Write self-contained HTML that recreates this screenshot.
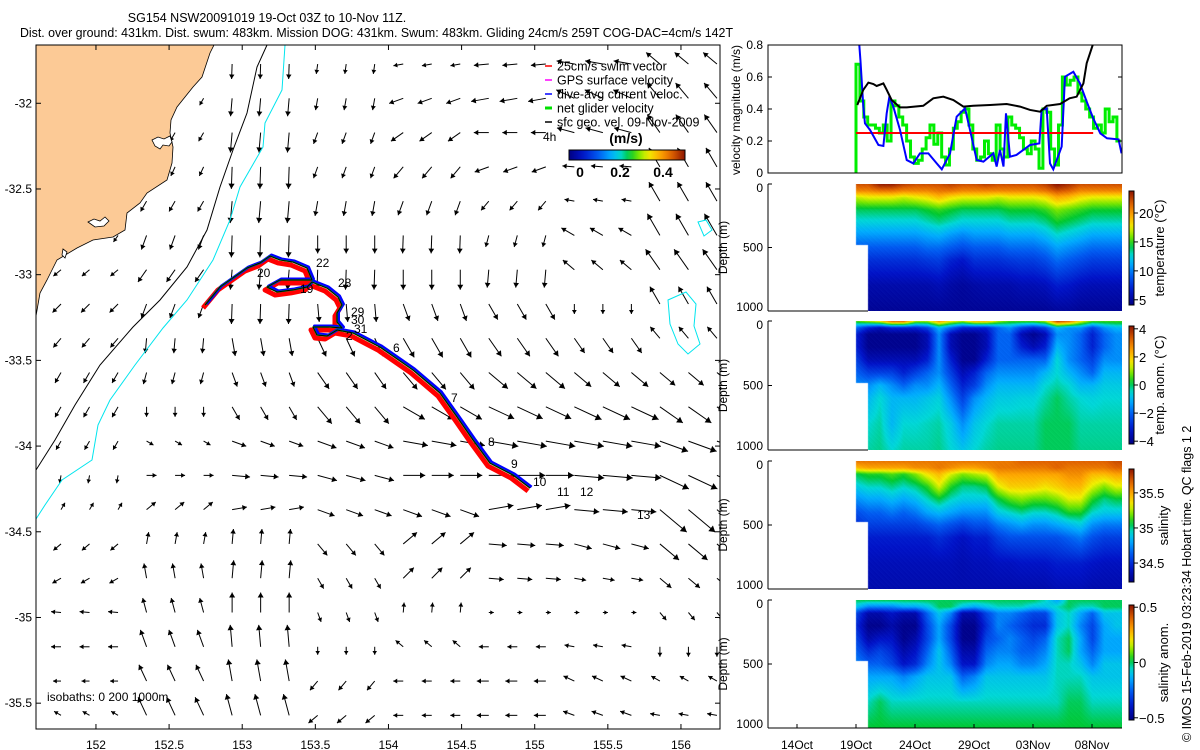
<!DOCTYPE html>
<html><head><meta charset="utf-8">
<style>
body{margin:0;background:#fff;}
#root{position:relative;width:1200px;height:750px;overflow:hidden;background:#fff;font-family:"Liberation Sans",sans-serif;}
svg{position:absolute;left:0;top:0;}
canvas{position:absolute;}
text{font-family:"Liberation Sans",sans-serif;fill:#000;}
</style></head>
<body>
<div id="root">
<canvas id="c-temp" style="left:768px;top:184px" width="354" height="127"></canvas>
<canvas id="c-tanom" style="left:768px;top:321px" width="354" height="129"></canvas>
<canvas id="c-sal" style="left:768px;top:461px" width="354" height="128"></canvas>
<canvas id="c-sanom" style="left:768px;top:600px" width="354" height="128"></canvas>
<svg id="s" width="1200" height="750"></svg>
</div>
<script>
// ---------- DATA ----------
const arrowAngle = [
[240,240,268,262,190,185,170,140],[240,240,265,260,200,190,155,130],[240,240,265,250,215,180,165,125],
[245,245,268,250,230,200,175,120],[240,240,265,260,250,230,170,120],[235,250,268,270,268,255,150,120],
[220,235,265,268,270,265,140,125],[225,250,268,275,290,300,270,120],[230,265,280,295,300,305,305,130],
[240,255,290,305,310,320,320,320],[240,270,300,310,330,335,335,325],[240,330,340,340,350,350,350,340],
[260,0,355,345,0,0,355,335],[60,40,10,340,340,10,355,320],[220,80,85,310,40,355,345,320],
[210,100,85,300,45,355,350,320],[175,105,90,290,85,0,0,310],[180,110,95,270,140,180,170,270],
[180,115,100,230,180,180,155,150],[150,115,105,220,180,180,160,170]];
const arrowLen = [
[8,8,15,10,10,15,18,18],[8,8,18,12,15,18,20,20],[10,10,20,12,15,15,18,22],[10,10,22,12,15,15,12,22],
[12,12,22,15,15,12,10,22],[8,15,22,18,18,12,15,25],[10,15,20,20,20,18,15,25],[12,15,20,18,18,18,10,20],
[12,15,18,20,22,22,18,15],[12,12,15,20,22,25,22,20],[12,10,15,22,25,28,30,28],[10,8,15,20,25,30,30,30],
[8,10,18,20,22,28,30,32],[8,12,15,18,20,25,25,35],[10,12,15,15,18,18,18,25],[10,15,18,12,15,15,12,15],
[10,15,20,10,10,5,5,10],[10,18,22,8,10,10,10,10],[8,18,22,12,10,12,12,10],[8,20,22,12,10,12,12,10]];
const trackLon = [152.746,152.848,153.033,153.122,153.19,153.258,153.347,153.443,153.477,153.443,153.258,153.17,153.238,153.347,153.443,153.477,153.58,153.655,153.682,153.648,153.648,153.682,153.6,153.484,153.511,153.58,153.648,153.758,153.942,154.168,154.352,154.469,154.578,154.694,154.852,154.968];
const trackLat = [-33.177,-33.072,-32.961,-32.932,-32.891,-32.914,-32.926,-32.961,-33.031,-33.031,-33.031,-33.072,-33.101,-33.089,-33.072,-33.043,-33.078,-33.13,-33.177,-33.224,-33.276,-33.311,-33.305,-33.305,-33.352,-33.358,-33.323,-33.34,-33.422,-33.556,-33.69,-33.83,-33.964,-34.099,-34.169,-34.245];
const lonTicks = [152,152.5,153,153.5,154,154.5,155,155.5,156];
const latTicks = [-32,-32.5,-33,-33.5,-34,-34.5,-35,-35.5];
const geoDay = [0.11,0.62,1.05,1.47,1.75,2.32,2.6,3.02,3.73,4.3,5.7,6.55,7.4,8.25,9.1,9.94,11.36,12.77,13.9,14.75,15.6,16.16,17.3,18.1,18.7,19.27,19.55,20.06];
const geoVel = [0.425,0.52,0.565,0.556,0.544,0.56,0.52,0.456,0.41,0.41,0.42,0.467,0.477,0.456,0.415,0.42,0.425,0.431,0.415,0.394,0.383,0.42,0.431,0.467,0.477,0.56,0.686,0.8];
const dacDay = [0.27,0.38,0.62,0.76,1.19,1.9,2.32,2.6,2.83,3.16,3.73,4.3,4.86,5.42,6.13,6.84,7.27,7.97,8.53,9.24,9.66,10.23,10.8,11.64,11.92,12.2,12.5,12.71,13.05,13.6,14.75,15.54,15.73,16.16,16.44,16.72,17.43,17.71,18.42,18.98,19.55,20.1,20.7,21.27,22.25,22.5];
const dacVel = [0.81,0.7,0.415,0.31,0.269,0.175,0.169,0.373,0.477,0.415,0.269,0.081,0.06,0.123,0.123,0.06,0.023,0.123,0.352,0.404,0.269,0.081,0.071,0.123,0.04,0.144,0.04,0.373,0.102,0.113,0.175,0.185,0.394,0.404,0.06,0.023,0.165,0.602,0.633,0.56,0.446,0.342,0.248,0.217,0.21,0.123];
const netVel = [0.68,0.45,0.35,0.3,0.3,0.28,0.25,0.3,0.2,0.45,0.42,0.35,0.3,0.2,0.1,0.06,0.08,0.15,0.22,0.3,0.18,0.25,0.1,0.05,0.15,0.28,0.32,0.38,0.4,0.3,0.15,0.08,0.1,0.2,0.12,0.08,0.3,0.15,0.1,0.35,0.3,0.28,0.22,0.15,0.12,0.2,0.15,0.03,0.4,0.38,0.15,0.05,0.3,0.6,0.55,0.58,0.6,0.5,0.45,0.4,0.35,0.28,0.3,0.25,0.4,0.32,0.35,0.2];
const netStep = 0.33;
const swimVel = 0.25, swimEnd = 20.1;
const velTicks = [0,0.2,0.4,0.6,0.8];
const dateLabels = ["14Oct","19Oct","24Oct","29Oct","03Nov","08Nov"];
const dateDays = [-5,0,5,10,15,20];
const depthLev = [0,50,100,200,300,400,500,600,800,1000];
const tempGrid = [
[22,22,23.5,23.5,22.5,22,22,22,22.5,22,22,22.5,22,22,22,22,22.5,23.8,23,22,22,22,22],
[20.5,20.5,21,21,20.5,20.5,20.5,21,21,20.5,20.5,20.5,20.5,20.5,20.5,20.5,21,22,21.5,20.5,20.5,20.5,20.5],
[17,17.5,17.5,17.5,17,17.5,18,19,18,17.5,17.5,17.5,17,17.5,17.5,17.5,18,19.5,19,18,17.5,17.5,17.5],
[14,14,14,14,14,14,14.5,15,14.5,14,14,14,14,14.5,14.5,14.5,15,16,15.5,15,14.5,14.5,14.5],
[12.5,12.5,12.5,12.5,12.5,12.5,13,13.5,13,12.5,12.5,12.5,12.5,13,13,13,13.5,14.5,14,13.5,13,13,13],
[10.8,10.8,10.8,10.8,10.8,10.8,11.2,11.5,10.8,10.3,10.8,10.8,10.8,11.2,11.2,11.2,11.8,12.8,12.3,11.8,11.2,11.2,11.2],
[9,9,9,9,9,9,9.5,9.5,9,8.5,9,9,9,9.5,9.5,9.5,10,11,10.5,10,9.5,9.5,9.5],
[7.5,7.5,7.5,7.5,7.5,7.5,7.8,8,7,6.5,7.5,7.5,7.5,7.8,8,8,8.5,9.5,9,8.5,8,8,8],
[5.5,5.5,5.5,5.5,5.5,5.5,5.5,5.8,5.3,5,5.3,5.5,5.5,5.5,5.8,5.8,6,6.8,6.5,6,5.8,5.8,5.8],
[4.8,4.8,4.8,4.8,4.8,4.8,4.8,4.8,4.8,4.8,4.8,4.8,4.8,4.8,4.8,4.8,4.8,5,5,4.8,4.8,4.8,4.8]];
const tanomGrid = [
[0.5,1,1.5,3,3,1,1,2.5,1.5,1,2,2,1,0.5,0.5,0.5,1,3.5,3,1.5,0.5,0.5,0.5],
[-2,-3,-3.5,-3,-3,-3,-2.5,-1,-2,-3,-3,-3,-2,-1.5,-2.5,-3,-2.5,-1,-1.5,-1.5,-2.5,-1.5,-1],
[-3,-4,-4,-4,-4,-4,-3.5,-1.5,-3.5,-4,-4,-3.5,-2,-2,-3.5,-4,-3.5,-1.5,-1.5,-2,-3,-2,-1.5],
[-3,-4,-4,-4,-4,-4,-3.5,-1.5,-3.5,-4,-4,-3.5,-2,-2,-3,-3.5,-3,-1,-1.5,-2,-3,-2,-1.5],
[-2.5,-3.5,-3.5,-3.5,-3.5,-3.5,-3,-1.5,-3,-4,-4,-3,-2,-2,-2,-2,-2,-0.5,-1.5,-2,-2.5,-1.5,-1.5],
[-2,-2.5,-2.5,-2.5,-3,-2.5,-2,-1.5,-2.5,-3.5,-3,-2,-1.5,-1.5,-1.5,-1.5,-1,-0.5,-1,-1.5,-2,-1,-1],
[-1.5,-1.5,-1,-1.5,-2,-1.5,-1.5,-1,-2,-3,-2.5,-1.5,-1,-1,-1,-1,-0.5,-0.3,-0.5,-1,-1,-0.7,-0.7],
[-1,-1,-0.5,-1,-1,-1,-0.8,-0.6,-1.5,-2.5,-1.5,-1,-0.7,-0.7,-0.6,-0.6,-0.3,0,-0.3,-0.5,-0.6,-0.5,-0.5],
[-0.5,-0.5,-0.3,-1,-0.5,-0.5,-0.4,-0.3,-0.7,-1.5,-0.8,-0.5,-0.3,-0.3,-0.3,-0.3,0,0,0,-0.3,-0.3,-0.3,-0.3],
[-0.3,-0.3,-0.2,-0.5,-0.3,-0.3,-0.3,-0.2,-0.5,-0.8,-0.5,-0.3,-0.2,-0.2,-0.2,-0.2,0,0,0,-0.2,-0.2,-0.2,-0.2]];
const salGrid = [
[35.6,35.6,35.6,35.6,35.6,35.6,35.6,35.6,35.6,35.6,35.6,35.6,35.6,35.6,35.65,35.65,35.65,35.65,35.65,35.65,35.65,35.65,35.7],
[35.45,35.5,35.5,35.5,35.5,35.55,35.55,35.6,35.55,35.5,35.5,35.55,35.6,35.6,35.6,35.6,35.6,35.65,35.6,35.6,35.6,35.6,35.65],
[35.05,35.1,35.1,35.15,35.1,35.2,35.35,35.45,35.3,35.2,35.25,35.3,35.5,35.5,35.5,35.5,35.5,35.5,35.55,35.55,35.45,35.45,35.5],
[34.9,34.95,34.95,35.0,34.95,35.0,35.1,35.3,35.1,35.0,35.0,35.05,35.3,35.4,35.4,35.4,35.35,35.4,35.45,35.45,35.3,35.2,35.3],
[34.75,34.8,34.8,34.85,34.8,34.85,34.95,35.05,34.95,34.9,34.9,34.9,35.05,35.15,35.2,35.15,35.15,35.2,35.3,35.3,35.1,35.0,35.05],
[34.6,34.65,34.65,34.7,34.65,34.7,34.8,34.85,34.8,34.75,34.75,34.75,34.9,34.95,35.0,34.95,34.95,35.0,35.1,35.1,34.95,34.9,34.9],
[34.5,34.55,34.55,34.55,34.55,34.55,34.6,34.65,34.6,34.55,34.6,34.6,34.7,34.75,34.8,34.75,34.75,34.8,34.85,34.9,34.75,34.7,34.7],
[34.45,34.45,34.45,34.45,34.45,34.45,34.45,34.5,34.45,34.4,34.45,34.45,34.55,34.6,34.6,34.6,34.6,34.6,34.65,34.7,34.6,34.55,34.55],
[34.38,34.38,34.38,34.38,34.38,34.38,34.38,34.38,34.38,34.36,34.38,34.38,34.4,34.4,34.42,34.42,34.42,34.45,34.45,34.45,34.42,34.4,34.4],
[34.35,34.35,34.35,34.35,34.35,34.35,34.35,34.35,34.35,34.35,34.35,34.35,34.35,34.35,34.35,34.35,34.35,34.37,34.37,34.37,34.35,34.35,34.35]];
const sanomGrid = [
[0,0,0,0,0,0,0,0,0,0,0,0,0,0,0,0,-0.05,-0.15,0,0,0,0,0],
[-0.1,-0.2,-0.2,-0.2,-0.15,-0.15,-0.1,0,0,-0.1,-0.15,-0.1,-0.05,-0.05,-0.05,-0.1,-0.1,-0.05,0,-0.05,-0.05,0,0],
[-0.3,-0.45,-0.45,-0.4,-0.45,-0.45,-0.25,-0.1,-0.2,-0.45,-0.45,-0.3,-0.2,-0.2,-0.25,-0.3,-0.3,-0.1,-0.05,-0.15,-0.25,-0.1,-0.1],
[-0.35,-0.5,-0.5,-0.45,-0.5,-0.5,-0.3,-0.15,-0.3,-0.5,-0.5,-0.35,-0.2,-0.25,-0.3,-0.35,-0.35,-0.1,-0.05,-0.2,-0.3,-0.15,-0.1],
[-0.3,-0.45,-0.4,-0.4,-0.5,-0.45,-0.3,-0.15,-0.3,-0.5,-0.5,-0.3,-0.25,-0.2,-0.25,-0.3,-0.25,-0.05,0,-0.15,-0.3,-0.15,-0.15],
[-0.25,-0.35,-0.3,-0.35,-0.45,-0.4,-0.25,-0.1,-0.25,-0.45,-0.45,-0.25,-0.2,-0.2,-0.25,-0.25,-0.2,-0.05,0,-0.15,-0.25,-0.15,-0.15],
[-0.2,-0.25,-0.25,-0.3,-0.4,-0.35,-0.2,-0.1,-0.2,-0.4,-0.4,-0.2,-0.15,-0.15,-0.2,-0.2,-0.15,-0.05,-0.05,-0.1,-0.2,-0.1,-0.1],
[-0.1,-0.15,-0.15,-0.15,-0.2,-0.15,-0.1,-0.1,-0.1,-0.25,-0.2,-0.1,-0.1,-0.1,-0.1,-0.1,-0.1,-0.05,-0.05,-0.05,-0.1,-0.1,-0.1],
[0,-0.05,0,-0.05,-0.05,-0.05,-0.05,-0.05,-0.05,-0.05,-0.05,-0.05,-0.05,-0.05,-0.05,-0.05,-0.05,-0.05,0,0,-0.05,-0.05,-0.05],
[0.02,0.02,0.02,0.02,0.02,0.02,0.02,0.02,0.02,0.02,0.02,0.02,0.02,0.02,0.02,0.02,0.02,0.02,0.02,0.02,0.02,0.02,0.02]];
const tempTicks=[5,10,15,20], tanomTicks=[-4,-2,0,2,4], salTicks=[34.5,35,35.5], sanomTicks=[-0.5,0,0.5];

// ---------- helpers ----------
const NS='http://www.w3.org/2000/svg';
const S=document.getElementById('s');
function el(tag,attrs,parent){const e=document.createElementNS(NS,tag);for(const k in attrs)e.setAttribute(k,attrs[k]);(parent||S).appendChild(e);return e;}
function txt(x,y,s,attrs,parent){const e=el('text',Object.assign({x:x,y:y},attrs||{}),parent);e.textContent=s;return e;}
const stops=[[0,0,0,130],[0.12,0,20,200],[0.25,0,90,240],[0.36,0,170,255],[0.44,0,215,215],[0.52,0,200,50],[0.6,120,230,0],[0.68,240,240,0],[0.78,255,170,0],[0.88,225,100,0],[1,140,20,0]];
function cmap(t){t=Math.max(0,Math.min(1,t));for(let i=1;i<stops.length;i++){if(t<=stops[i][0]){const a=stops[i-1],b=stops[i],f=(t-a[0])/(b[0]-a[0]);return [a[1]+f*(b[1]-a[1]),a[2]+f*(b[2]-a[2]),a[3]+f*(b[3]-a[3])];}}return [140,20,0];}

const MX0=36,MX1=720,MY0=45,MY1=729;
function mx(lon){return 36+(lon-151.59)*146.25;}
function my(lat){return 45+(-31.66-lat)*171.4;}
function tx(d){return 856+11.8*d;}
function vy(v){return 173-160*v;}

// ---------- MAP ----------
const gMap=el('g',{});
const cp=el('clipPath',{id:'mapclip'},gMap);
el('rect',{x:MX0,y:MY0,width:MX1-MX0,height:MY1-MY0},cp);
const gIn=el('g',{'clip-path':'url(#mapclip)'},gMap);
const gArr=el('g',{},gIn);
for(let r=-1;r<20;r++){
  const row=arrowAngle[Math.max(0,r)], lrow=arrowLen[Math.max(0,r)];
  for(let c=0;c<24;c++){
    const lon=151.761+0.195*c, lat=-31.771-0.2*r;
    const x=mx(lon), y=my(lat);
    const g=Math.min(7,Math.floor(c/3));
    const a=row[g]*Math.PI/180, L=lrow[g];
    const x2=x+L*Math.cos(a), y2=y-L*Math.sin(a);
    const ln=el('line',{x1:x,y1:y,x2:x2,y2:y2,stroke:'#000','stroke-width':1},gArr);
    
    
    const hs=Math.min(6,3+L*0.1), ux=Math.cos(a), uy=-Math.sin(a);
    const bx=x2-ux*hs, by=y2-uy*hs;
    el('polygon',{points:`${x2},${y2} ${bx-uy*hs*0.6},${by+ux*hs*0.6} ${bx+uy*hs*0.6},${by-ux*hs*0.6}`,fill:'#000'},gArr);
  }
}
const coast=[[214,45],[210,53],[202,77],[193,87],[177,107],[171,120],[170,133],[173,147],[172,163],[167,180],[147,193],[140,203],[127,213],[125,230],[113,237],[93,240],[77,248],[57,260],[47,280],[40,293],[36,316]];
el('polygon',{points:'36,45 '+coast.map(p=>p.join(',')).join(' '),fill:'#fcca96',stroke:'#000','stroke-width':0.8,},gIn);
el('path',{d:'M152,140 l6,-3 l6,2 l6,-3 l2,6 l-3,4 l-6,-1 l-3,4 l-5,-3 z M88,222 l6,-3 l6,2 l5,-4 l4,4 l-5,5 l-9,1 z M63,249 l4,3 l-2,6 l-3,-3 z',fill:'#fff',stroke:'#000','stroke-width':0.8},gIn);
el('polyline',{points:'267,45 257,67 247,113 233,150 220,187 207,230 187,267 160,300 133,327 100,365 75,405 55,440 36,470',fill:'none',stroke:'#000','stroke-width':1,},gIn);
el('polyline',{points:'285,45 282,90 265,123 263,147 240,187 230,220 213,260 187,300 163,328 135,365 110,400 98,425 92,460 62,480 45,505 36,519',fill:'none',stroke:'#00e5ee','stroke-width':1,},gIn);
el('path',{d:'M668,300 l18,-8 l10,12 l-2,22 l6,18 l-12,10 l-10,-10 l-8,-20 z M698,222 l8,-2 l6,10 l-8,6 z',fill:'none',stroke:'#00e5ee','stroke-width':1,},gIn);
const tp=trackLon.map((l,i)=>[mx(l),my(trackLat[i])]);
function tpts(dx,dy){return tp.map(p=>(p[0]+dx)+','+(p[1]+dy)).join(' ');}
const gTr=el('g',{},gIn);
el('polyline',{points:tpts(-2,3),fill:'none',stroke:'#ff0000','stroke-width':5,'stroke-linejoin':'round'},gTr);
el('polyline',{points:tpts(1.5,-1),fill:'none',stroke:'#0000ff','stroke-width':3,'stroke-linejoin':'round'},gTr);
el('polyline',{points:tpts(0,0),fill:'none',stroke:'#00d000','stroke-width':1.5,'stroke-linejoin':'round'},gTr);
el('polyline',{points:tpts(0,0),fill:'none',stroke:'#000','stroke-width':1,'stroke-linejoin':'round'},gTr);
const dayLab=[["20",257,277],["22",316,267],["28",338,287],["19",300,293],["29",351,316],["30",351,324],["31",354,333],["2",346,340],["6",393,352],["7",451,402],["8",488,446],["9",511,468],["10",533,486],["11",557,496],["12",580,496],["13",637,519],["4h",543,141]];
dayLab.forEach(d=>{const t=txt(d[1],d[2],d[0],{'font-size':12},gIn);});
const gLeg=el('g',{},gMap);
const legItems=[["25cm/s swim vector","#ff0000"],["GPS surface velocity","#ff00ff"],["dive-avg current veloc.","#0000ff"],["net glider velocity","#00e000"],["sfc geo. vel. 09-Nov-2009","#000"]];
legItems.forEach((it,i)=>{const y=66+14*i;el('line',{x1:545,y1:y,x2:552,y2:y,stroke:it[1],'stroke-width':it[1]=='#00e000'?3:1.5},gLeg);
  const t=txt(557,y+4.5,it[0],{'font-size':12.5},gLeg);});
txt(626,143,"(m/s)",{'font-size':14,'font-weight':'bold','text-anchor':'middle',},gMap);
const gr=el('linearGradient',{id:'hjet',x1:0,y1:0,x2:1,y2:0},gMap);
for(let i=0;i<=20;i++){const c=cmap(i/20);el('stop',{offset:i/20,'stop-color':`rgb(${c.map(Math.round).join(',')})`},gr);}
el('rect',{x:569,y:150,width:116,height:10,fill:'url(#hjet)',stroke:'#000','stroke-width':1,},gMap);
[[0,580],[0.2,620],[0.4,663]].forEach(v=>txt(v[1],177,String(v[0]),{'font-size':14,'font-weight':'bold','text-anchor':'middle'},gMap));
txt(47,701,"isobaths: 0   200  1000m",{'font-size':12,'xml:space':'preserve'},gMap);
el('rect',{x:MX0,y:MY0,width:MX1-MX0,height:MY1-MY0,fill:'none',stroke:'#000','stroke-width':1,},gMap);
lonTicks.forEach(l=>{const x=mx(l);el('line',{x1:x,y1:MY1,x2:x,y2:MY1-5,stroke:'#000'},gMap);el('line',{x1:x,y1:MY0,x2:x,y2:MY0+5,stroke:'#000'},gMap);
  txt(x,749,String(l),{'font-size':12,'text-anchor':'middle',},gMap);});
latTicks.forEach(l=>{const y=my(l);el('line',{x1:MX0,y1:y,x2:MX0+5,y2:y,stroke:'#000'},gMap);el('line',{x1:MX1,y1:y,x2:MX1-5,y2:y,stroke:'#000'},gMap);
  txt(32,y+4,String(l),{'font-size':12,'text-anchor':'end',},gMap);});
txt(267,22,"SG154 NSW20091019 19-Oct 03Z to 10-Nov 11Z.",{'font-size':12.5,'text-anchor':'middle',});
txt(20,37,"Dist. over ground: 431km. Dist. swum: 483km. Mission DOG: 431km. Swum: 483km. Gliding 24cm/s 259T COG-DAC=4cm/s 142T",{'font-size':12.5,textLength:713,lengthAdjust:'spacingAndGlyphs',});

// ---------- VELOCITY PANEL ----------
const gV=el('g',{});
const vc=el('clipPath',{id:'vclip'},gV);
el('rect',{x:768,y:45,width:354,height:128},vc);
const gVi=el('g',{'clip-path':'url(#vclip)'},gV);
let np=[];netVel.forEach((v,i)=>{const x0=tx(i*netStep),x1=tx((i+1)*netStep);np.push(x0+','+vy(v),x1+','+vy(v));});
el('polyline',{points:tx(0)+','+vy(0)+' '+np.join(' '),fill:'none',stroke:'#00ee00','stroke-width':3,},gVi);
el('line',{x1:tx(0),y1:vy(swimVel),x2:tx(swimEnd),y2:vy(swimVel),stroke:'#ff0000','stroke-width':2,},gVi);
el('polyline',{points:dacDay.map((d,i)=>tx(d)+','+vy(dacVel[i])).join(' '),fill:'none',stroke:'#0000ff','stroke-width':2,},gVi);
el('polyline',{points:geoDay.map((d,i)=>tx(d)+','+vy(geoVel[i])).join(' '),fill:'none',stroke:'#000','stroke-width':2,},gVi);
el('rect',{x:768,y:45,width:354,height:128,fill:'none',stroke:'#000','stroke-width':1},gV);
velTicks.forEach(v=>{const y=vy(v);el('line',{x1:768,y1:y,x2:772,y2:y,stroke:'#000'},gV);el('line',{x1:1122,y1:y,x2:1118,y2:y,stroke:'#000'},gV);
  txt(763,y+4,String(v),{'font-size':12,'text-anchor':'end',},gV);});
txt(0,0,"velocity magnitude (m/s)",{'font-size':12,'text-anchor':'middle',transform:'translate(740,110) rotate(-90)',},gV);

// ---------- SECTIONS ----------
function interp(grid,d,z){
  let i=0;while(i<depthLev.length-2&&z>depthLev[i+1])i++;
  const fz=Math.max(0,Math.min(1,(z-depthLev[i])/(depthLev[i+1]-depthLev[i])));
  const dd=Math.max(0,Math.min(22,d));const j=Math.min(21,Math.floor(dd));const fd=dd-j;
  const a=grid[i][j]*(1-fd)+grid[i][j+1]*fd, b=grid[i+1][j]*(1-fd)+grid[i+1][j+1]*fd;
  return a*(1-fz)+b*fz;
}
function drawSection(id,grid,vmin,vmax,top,h,cbTop,cbBot,ticks,title,name,titleX){
  const cv=document.getElementById(id),ctx=cv.getContext('2d'),W=cv.width,H=cv.height;
  const img=ctx.createImageData(W,H);
  for(let py=0;py<H;py++){const z=py/(H-1)*1000;
    for(let px=0;px<W;px++){const X=768+px;const d=(X-856)/11.8;
      if(d<0)continue; if(z>480&&d<1.0)continue;
      const v=interp(grid,d,z);const c=cmap((v-vmin)/(vmax-vmin));const k=(py*W+px)*4;
      const n=((px*7+py*13)%5-2)*3;
      img.data[k]=Math.max(0,Math.min(255,c[0]+n));img.data[k+1]=Math.max(0,Math.min(255,c[1]+n));img.data[k+2]=Math.max(0,Math.min(255,c[2]+n));img.data[k+3]=255;}}
  ctx.putImageData(img,0,0);
  const g=el('g',{});
  el('line',{x1:768,y1:top,x2:768,y2:top+h,stroke:'#000'},g);
  el('line',{x1:768,y1:top+h,x2:868,y2:top+h,stroke:'#000'},g);
  [[0,'0'],[500,'500'],[1000,'1000']].forEach(t=>{const y=top+t[0]/1000*h;el('line',{x1:768,y1:y,x2:772,y2:y,stroke:'#000'},g);
    txt(763,y+(t[0]==0?8:t[0]==1000?0:4),t[1],{'font-size':12,'text-anchor':'end',},g);});
  txt(0,0,"Depth (m)",{'font-size':12,'text-anchor':'middle',transform:`translate(727,${top+h/2}) rotate(-90)`,},g);
  const gid='vj'+id;const lg=el('linearGradient',{id:gid,x1:0,y1:1,x2:0,y2:0},g);
  for(let i=0;i<=20;i++){const c=cmap(i/20);el('stop',{offset:i/20,'stop-color':`rgb(${c.map(Math.round).join(',')})`},lg);}
  el('rect',{x:1129,y:cbTop,width:5,height:cbBot-cbTop,fill:`url(#${gid})`,stroke:'#000','stroke-width':1,},g);
  ticks.forEach(t=>{const y=cbBot-(t-vmin)/(vmax-vmin)*(cbBot-cbTop);el('line',{x1:1134,y1:y,x2:1138,y2:y,stroke:'#000'},g);
    txt(1139,y+5,(t<0?'\u2212':'')+String(Math.abs(t)),{'font-size':13,},g);});
  txt(0,0,title,{'font-size':13,'text-anchor':'middle',transform:`translate(${titleX},${(cbTop+cbBot)/2}) rotate(-90)`,},g);
}
drawSection('c-temp',tempGrid,4.1,23.8,184,127,191,305,tempTicks,"temperature (\u00B0C)",'temperature-panel',1164);
drawSection('c-tanom',tanomGrid,-4.2,4.2,321,129,326,444,tanomTicks,"temp. anom. (\u00B0C)",'temp-anomaly-panel',1164);
drawSection('c-sal',salGrid,34.23,35.84,461,128,469,582,salTicks,"salinity",'salinity-panel',1168);
drawSection('c-sanom',sanomGrid,-0.52,0.52,600,128,605,720,sanomTicks,"salinity anom.",'salinity-anomaly-panel',1168);
const gX=el('g',{});
el('line',{x1:768,y1:728,x2:1122,y2:728,stroke:'#000'},gX);
dateDays.forEach((d,i)=>{const x=tx(d);el('line',{x1:x,y1:728,x2:x,y2:724,stroke:'#000'},gX);
  txt(x,749,dateLabels[i],{'font-size':12,'text-anchor':'middle',},gX);});
txt(0,0,"\u00A9 IMOS 15-Feb-2019 03:23:34 Hobart time. QC flags 1  2",{'font-size':12.5,transform:'translate(1191,742) rotate(-90)',});
</script>
</body></html>
